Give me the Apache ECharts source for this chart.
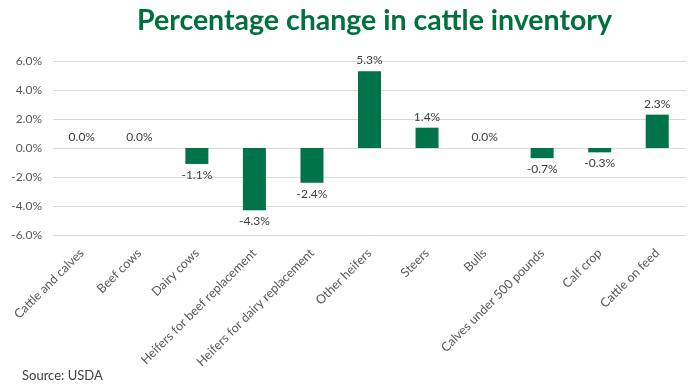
<!DOCTYPE html>
<html><head><meta charset="utf-8">
<script src="https://cdn.jsdelivr.net/npm/echarts@6/dist/echarts.min.js"></script>
<style>html,body{margin:0;padding:0;background:#fff}#c{width:700px;height:387px}</style>
</head><body><div id="c"></div>
<script>
const categories = ["Cattle and calves","Beef cows","Dairy cows","Heifers for beef replacement","Heifers for dairy replacement","Other heifers","Steers","Bulls","Calves under 500 pounds","Calf crop","Cattle on feed"];
const values = [0.0, 0.0, -1.1, -4.3, -2.4, 5.3, 1.4, 0.0, -0.7, -0.3, 2.3];
const yTicks = [-6, -4, -2, 0, 2, 4, 6];
const titleText = "Percentage change in cattle inventory";
const sourceText = "Source: USDA";

const FONT = "Lato";
const chart = echarts.init(document.getElementById('c'));
chart.setOption({
  animation: false,
  title: [{
    text: titleText, left: 132, top: 1,
    textStyle: {color: '#00703C', fontSize: 28.5, fontWeight: 'bold', fontFamily: FONT}
  }, {
    text: sourceText, left: 17, top: 364,
    textStyle: {color: '#404040', fontSize: 13, fontWeight: 'normal', fontFamily: FONT}
  }],
  grid: {left: 53, right: 14, top: 61, bottom: 152, containLabel: false},
  xAxis: {
    type: 'category', data: categories,
    axisLine: {show: false}, axisTick: {show: false},
    axisLabel: {rotate: 45, interval: 0, color: '#595959', fontSize: 12.5, fontFamily: FONT, margin: 16}
  },
  yAxis: {
    type: 'value', min: yTicks[0], max: yTicks[yTicks.length-1], interval: 2,
    axisLabel: {formatter: v => v.toFixed(1) + '%', color: '#595959', fontSize: 12, fontFamily: FONT, margin: 11},
    splitLine: {lineStyle: {color: '#d9d9d9', width: 1}},
    axisLine: {show: false}, axisTick: {show: false}
  },
  series: [{
    type: 'bar', barWidth: 23,
    data: values.map(v => v < 0 ? {value: v, label: {position: 'bottom'}} : v),
    itemStyle: {color: '#00734A'},
    label: {
      show: true, color: '#404040', fontSize: 12, fontFamily: FONT,
      formatter: p => p.value.toFixed(1) + '%',
      position: 'top', distance: 5
    }
  }]
});
</script></body></html>
